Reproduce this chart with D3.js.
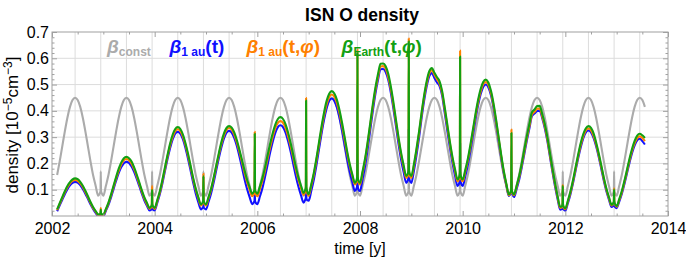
<!DOCTYPE html>
<html><head><meta charset="utf-8">
<script src="https://cdn.jsdelivr.net/npm/d3@7"></script>
<style>
body{margin:0;background:#fff;}
svg text{font-family:"Liberation Sans",Arial,Helvetica,sans-serif;}
</style></head><body>
<svg id="c" width="686" height="262"></svg>
<script>
// ---------- data ----------
const years = [2002,2003,2004,2005,2006,2007,2008,2009,2010,2011,2012,2013];
const phases = [0,0.05,0.1,0.15,0.2,0.25,0.3,0.35,0.4,0.45,0.5,0.55,0.6,0.65,0.7,0.75,0.8,0.85,0.9,0.93,0.945,0.95,0.955,0.97];
const N = null;
const grayRows = [
 [N,N,.156,.208,.265,.322,.374,.415,.441,.45,.441,.415,.374,.322,.265,.208,.156,.115,.077,.086,.095,.17,.095,.086],
 [.077,.115,.156,.208,.265,.322,.374,.415,.441,.45,.441,.415,.374,.322,.265,.208,.156,.115,.077,.086,.095,.17,.095,.086],
 [.077,.115,.156,.208,.265,.322,.374,.415,.441,.45,.441,.415,.374,.322,.265,.208,.156,.115,.077,.086,.095,.17,.095,.086],
 [.077,.115,.156,.208,.265,.322,.374,.415,.441,.45,.441,.415,.374,.322,.265,.208,.156,.115,.077,.086,.095,.17,.095,.086],
 [.077,.115,.156,.208,.265,.322,.374,.415,.441,.45,.441,.415,.374,.322,.265,.208,.156,.115,.077,.086,.095,.17,.095,.086],
 [.077,.115,.156,.208,.265,.322,.374,.415,.441,.45,.441,.415,.374,.322,.265,.208,.156,.115,.077,.086,.095,.17,.095,.086],
 [.077,.115,.156,.208,.265,.322,.374,.415,.441,.45,.441,.415,.374,.322,.265,.208,.156,.115,.077,.086,.095,.17,.095,.086],
 [.077,.115,.156,.208,.265,.322,.374,.415,.441,.45,.441,.415,.374,.322,.265,.208,.156,.115,.077,.086,.095,.17,.095,.086],
 [.077,.115,.156,.208,.265,.322,.374,.415,.441,.45,.441,.415,.374,.322,.265,.208,.156,.115,.077,.086,.095,.17,.095,.086],
 [.077,.115,.156,.208,.265,.322,.374,.415,.441,.45,.441,.415,.374,.322,.265,.208,.156,.115,.077,.086,.095,.17,.095,.086],
 [.077,.115,.156,.208,.265,.322,.374,.415,.441,.45,.441,.415,.374,.322,.265,.208,.156,.115,.077,.086,.095,.17,.095,.086],
 [.077,.115,.156,.208,.265,.322,.374,.415,.441,.45,.441,.415,N,N,N,N,N,N,N,N,N,N,N,N]
];
const blueRows = [
 [N,N,.018,.041,.062,.083,.102,.117,.126,.130,.127,.118,.103,.085,.065,.045,.027,.012,.001,.001,.003,.012,.003,.001],
 [.000,.020,.042,.071,.103,.135,.164,.186,.201,.206,.202,.188,.168,.142,.114,.085,.059,.039,.021,.024,.028,.040,.028,.024],
 [.021,.050,.083,.124,.171,.217,.258,.291,.313,.320,.313,.292,.259,.218,.173,.127,.086,.053,.025,.030,.033,.044,.033,.029],
 [.025,.054,.087,.128,.175,.221,.262,.295,.317,.324,.317,.297,.267,.228,.185,.141,.103,.072,.045,.052,.058,.082,.058,.050],
 [.045,.074,.107,.149,.195,.242,.283,.316,.338,.345,.338,.317,.284,.244,.198,.152,.112,.079,.051,.060,.070,.120,.070,.060],
 [.058,.095,.138,.192,.253,.313,.367,.410,.438,.447,.438,.413,.375,.326,.271,.216,.168,.129,.095,.104,.115,.215,.115,.100],
 [.095,.140,.191,.256,.328,.400,.465,.517,.558,.559,.548,.518,.470,.410,.343,.275,.215,.167,.126,.135,.150,.330,.150,.135],
 [.126,.172,.231,.297,.373,.440,.494,.532,.544,.525,.508,.494,.458,.393,.326,.262,.204,.155,.114,.123,.138,.278,.138,.123],
 [.114,.151,.194,.247,.307,.367,.421,.463,.491,.500,.490,.460,.413,.354,.288,.222,.163,.117,.076,.084,.092,.133,.092,.082],
 [.072,.102,.138,.184,.235,.287,.334,.380,.390,.399,.401,.372,.334,.285,.226,.167,.112,.064,.024,.026,.030,.050,.030,.024],
 [.020,.049,.083,.125,.173,.220,.262,.296,.318,.325,.318,.297,.265,.225,.180,.134,.094,.062,.034,.038,.042,.060,.042,.034],
 [.030,.055,.084,.121,.162,.203,.240,.269,.288,.294,.285,.272,N,N,N,N,N,N,N,N,N,N,N,N]
];
const orangeRows = [
 [N,N,.022,.046,.068,.090,.109,.124,.134,.137,.134,.124,.110,.091,.071,.050,.031,.017,.004,.005,.008,.030,.008,.005],
 [.004,.024,.048,.078,.111,.144,.173,.197,.212,.217,.212,.199,.178,.152,.122,.093,.066,.045,.027,.032,.042,.115,.042,.032],
 [.027,.056,.089,.132,.179,.226,.268,.301,.323,.330,.323,.302,.270,.230,.185,.140,.100,.068,.040,.046,.056,.161,.056,.046],
 [.040,.068,.101,.142,.188,.233,.274,.307,.328,.335,.329,.310,.281,.245,.205,.165,.129,.100,.075,.082,.092,.320,.092,.082],
 [.075,.102,.134,.174,.218,.262,.302,.334,.354,.361,.354,.334,.303,.264,.221,.177,.138,.107,.080,.090,.100,.449,.100,.088],
 [.077,.114,.156,.210,.270,.329,.383,.425,.453,.462,.454,.429,.392,.344,.291,.238,.191,.153,.120,.129,.144,.633,.144,.129],
 [.120,.163,.213,.276,.346,.416,.479,.529,.569,.570,.560,.529,.483,.423,.358,.292,.233,.186,.145,.153,.168,.675,.168,.153],
 [.145,.190,.248,.313,.387,.453,.506,.543,.555,.537,.520,.504,.468,.406,.341,.277,.218,.172,.132,.141,.158,.629,.158,.141],
 [.132,.168,.210,.262,.321,.380,.432,.474,.501,.510,.499,.469,.421,.361,.295,.228,.168,.120,.079,.087,.097,.329,.097,.087],
 [.079,.110,.147,.193,.244,.296,.342,.386,.396,.408,.409,.379,.341,.292,.233,.174,.120,.071,.031,.033,.041,.119,.041,.031],
 [.026,.055,.089,.132,.180,.227,.270,.304,.326,.333,.326,.305,.273,.232,.187,.141,.100,.068,.040,.045,.052,.105,.052,.042],
 [.035,.061,.090,.128,.169,.211,.248,.277,.296,.303,.297,.285,N,N,N,N,N,N,N,N,N,N,N,N]
];
const greenRows = [
 [N,N,.025,.049,.072,.094,.114,.129,.139,.143,.140,.130,.115,.096,.075,.053,.034,.019,.006,.007,.010,.025,.010,.007],
 [.006,.027,.051,.082,.116,.149,.180,.204,.220,.225,.220,.207,.185,.158,.128,.098,.071,.050,.031,.036,.045,.100,.045,.036],
 [.031,.060,.094,.137,.185,.232,.275,.309,.331,.338,.331,.310,.277,.237,.191,.145,.105,.072,.044,.050,.060,.152,.060,.050],
 [.044,.073,.105,.147,.193,.239,.281,.314,.335,.342,.336,.318,.289,.253,.214,.174,.138,.110,.085,.092,.100,.313,.100,.092],
 [.085,.113,.145,.185,.231,.276,.316,.348,.369,.376,.369,.349,.317,.277,.232,.187,.147,.116,.088,.098,.110,.439,.110,.095],
 [.083,.120,.164,.218,.279,.340,.394,.438,.465,.475,.466,.442,.403,.355,.301,.246,.198,.159,.126,.135,.150,.620,.150,.135],
 [.126,.170,.220,.283,.354,.425,.488,.539,.579,.580,.570,.541,.493,.434,.367,.300,.241,.193,.152,.160,.175,.665,.175,.160],
 [.152,.197,.255,.321,.394,.460,.514,.551,.563,.545,.528,.512,.475,.414,.349,.284,.226,.179,.139,.148,.165,.607,.165,.148],
 [.139,.175,.217,.270,.329,.388,.441,.483,.510,.519,.508,.477,.429,.368,.301,.233,.172,.124,.082,.090,.100,.316,.100,.090],
 [.082,.114,.152,.199,.252,.304,.351,.395,.405,.418,.419,.388,.350,.300,.240,.180,.125,.075,.035,.036,.045,.115,.045,.034],
 [.029,.059,.094,.137,.186,.234,.278,.312,.334,.342,.335,.314,.280,.239,.193,.146,.105,.072,.043,.048,.055,.101,.055,.045],
 [.038,.064,.095,.133,.175,.218,.256,.286,.306,.313,.307,.297,N,N,N,N,N,N,N,N,N,N,N,N]
];
const xMajorTicks = [2002,2004,2006,2008,2010,2012,2014];
const xMinorTicks = [2002.5,2003,2003.5,2004.5,2005,2005.5,2006.5,2007,2007.5,2008.5,2009,2009.5,2010.5,2011,2011.5,2012.5,2013,2013.5];
const yMajorTicks = [0.1,0.2,0.3,0.4,0.5,0.6,0.7];
const yMinorTicks = [0.02,0.04,0.06,0.08,0.12,0.14,0.16,0.18,0.22,0.24,0.26,0.28,0.32,0.34,0.36,0.38,0.42,0.44,0.46,0.48,0.52,0.54,0.56,0.58,0.62,0.64,0.66,0.68];
const gridTimes = [2002.45,2002.95,2003.45,2003.95,2004.45,2004.95,2005.45,2005.95,2006.45,2006.95,2007.45,2007.95,2008.45,2008.95,2009.45,2009.95,2010.45,2010.95,2011.45,2011.95,2012.45,2012.95,2013.45];
const gridValues = [0.1,0.2,0.3,0.4,0.5,0.6];

// ---------- chart ----------
const L=52, R=668, T=32, B=216;
const x = d3.scaleLinear().domain([2002,2014]).range([L,R]);
const y = d3.scaleLinear().domain([0,0.7]).range([B,T]);
const svg = d3.select('#c');
const frameCol = '#a0a0a0', gridCol = '#dcdcdc';

// grid
svg.append('g').selectAll('line').data(gridTimes).join('line')
  .attr('x1',d=>x(d)).attr('x2',d=>x(d)).attr('y1',T).attr('y2',B)
  .attr('stroke',gridCol).attr('stroke-width',1);
svg.append('g').selectAll('line').data(gridValues).join('line')
  .attr('x1',L).attr('x2',R).attr('y1',d=>y(d)).attr('y2',d=>y(d))
  .attr('stroke',gridCol).attr('stroke-width',1);

// series
function pts(rows){
  const out=[];
  years.forEach((yr,i)=>phases.forEach((p,j)=>out.push({t:yr+p, v:rows[i][j]})));
  return out;
}
svg.append('defs').append('clipPath').attr('id','clip')
  .append('rect').attr('x',L).attr('y',T-2).attr('width',R-L).attr('height',B-T+2);
const line = d3.line().defined(d=>d.v!==null).x(d=>x(d.t)).y(d=>y(d.v)).curve(d3.curveMonotoneX);
const series = [
  {rows:grayRows, col:'#ababab'},
  {rows:blueRows, col:'#1010ff'},
  {rows:orangeRows, col:'#ff8000'},
  {rows:greenRows, col:'#12a012'}
];
const gl = svg.append('g').attr('clip-path','url(#clip)');
series.forEach(s=>{
  gl.append('path').attr('d',line(pts(s.rows))).attr('fill','none')
    .attr('stroke',s.col).attr('stroke-width',2.1).attr('stroke-linejoin','round');
});

// axes (ticks inward)
function styleAxis(g){ g.select('.domain').remove(); g.selectAll('line').attr('stroke',frameCol); 
  g.selectAll('text').attr('fill','#000').attr('font-size',16).attr('font-family','"Liberation Sans",Arial,sans-serif'); }
svg.append('g').attr('transform',`translate(0,${B})`)
  .call(d3.axisBottom(x).tickValues(xMajorTicks).tickFormat(d3.format('d')).tickSizeInner(-5).tickSizeOuter(0).tickPadding(7)).call(styleAxis);
svg.append('g').attr('transform',`translate(0,${B})`)
  .call(d3.axisBottom(x).tickValues(xMinorTicks).tickFormat('').tickSizeInner(-2.5).tickSizeOuter(0)).call(styleAxis);
svg.append('g').attr('transform',`translate(0,${T})`)
  .call(d3.axisTop(x).tickValues(xMajorTicks).tickFormat('').tickSizeInner(-5).tickSizeOuter(0)).call(styleAxis);
svg.append('g').attr('transform',`translate(0,${T})`)
  .call(d3.axisTop(x).tickValues(xMinorTicks).tickFormat('').tickSizeInner(-2.5).tickSizeOuter(0)).call(styleAxis);
svg.append('g').attr('transform',`translate(${L},0)`)
  .call(d3.axisLeft(y).tickValues(yMajorTicks).tickFormat(d3.format('.1f')).tickSizeInner(-5).tickSizeOuter(0).tickPadding(3)).call(styleAxis);
svg.append('g').attr('transform',`translate(${L},0)`)
  .call(d3.axisLeft(y).tickValues(yMinorTicks).tickFormat('').tickSizeInner(-2.5).tickSizeOuter(0)).call(styleAxis);
svg.append('g').attr('transform',`translate(${R},0)`)
  .call(d3.axisRight(y).tickValues(yMajorTicks).tickFormat('').tickSizeInner(-5).tickSizeOuter(0)).call(styleAxis);
svg.append('g').attr('transform',`translate(${R},0)`)
  .call(d3.axisRight(y).tickValues(yMinorTicks).tickFormat('').tickSizeInner(-2.5).tickSizeOuter(0)).call(styleAxis);

// frame
svg.append('rect').attr('x',L).attr('y',T).attr('width',R-L).attr('height',B-T)
  .attr('fill','none').attr('stroke',frameCol).attr('stroke-width',1);

// title
svg.append('text').attr('x',(L+R)/2+2).attr('y',21).attr('text-anchor','middle')
  .attr('font-size',17.5).attr('font-weight','bold').text('ISN O density');

// axis titles
svg.append('text').attr('x',(L+R)/2).attr('y',254).attr('text-anchor','middle')
  .attr('font-size',16).text('time [y]');
const yt = svg.append('text').attr('transform','translate(18,125) rotate(-90)')
  .attr('text-anchor','middle').attr('font-size',17);
yt.append('tspan').text('density [10');
yt.append('tspan').attr('font-size',12).attr('dy',-6).text('\u22125');
yt.append('tspan').attr('dy',6).text('cm');
yt.append('tspan').attr('font-size',12).attr('dy',-6).text('\u22123');
yt.append('tspan').attr('dy',6).text(']');

// legend
const legendItems = [
  {x:107, col:'#ababab', sub:'const', tail:null},
  {x:169.5, col:'#1010ff', sub:'1 au', tail:['t']},
  {x:246.5, col:'#ff8000', sub:'1 au', tail:['t','\u03c6']},
  {x:341.6, col:'#12a012', sub:'Earth', tail:['t','\u03c6']}
];
legendItems.forEach(it=>{
  const t = svg.append('text').attr('x',it.x).attr('y',53).attr('fill',it.col)
    .attr('font-size',19).attr('font-weight','bold');
  t.append('tspan').attr('font-style','italic').text('\u03b2');
  t.append('tspan').attr('font-size',12).attr('dy',2.5).text(it.sub);
  if(it.tail){
    t.append('tspan').attr('dy',-2.5).text('(t');
    if(it.tail.length>1){ t.append('tspan').text(','); t.append('tspan').attr('font-style','italic').text('\u03c6'); }
    t.append('tspan').text(')');
  }
});
</script>
</body></html>
